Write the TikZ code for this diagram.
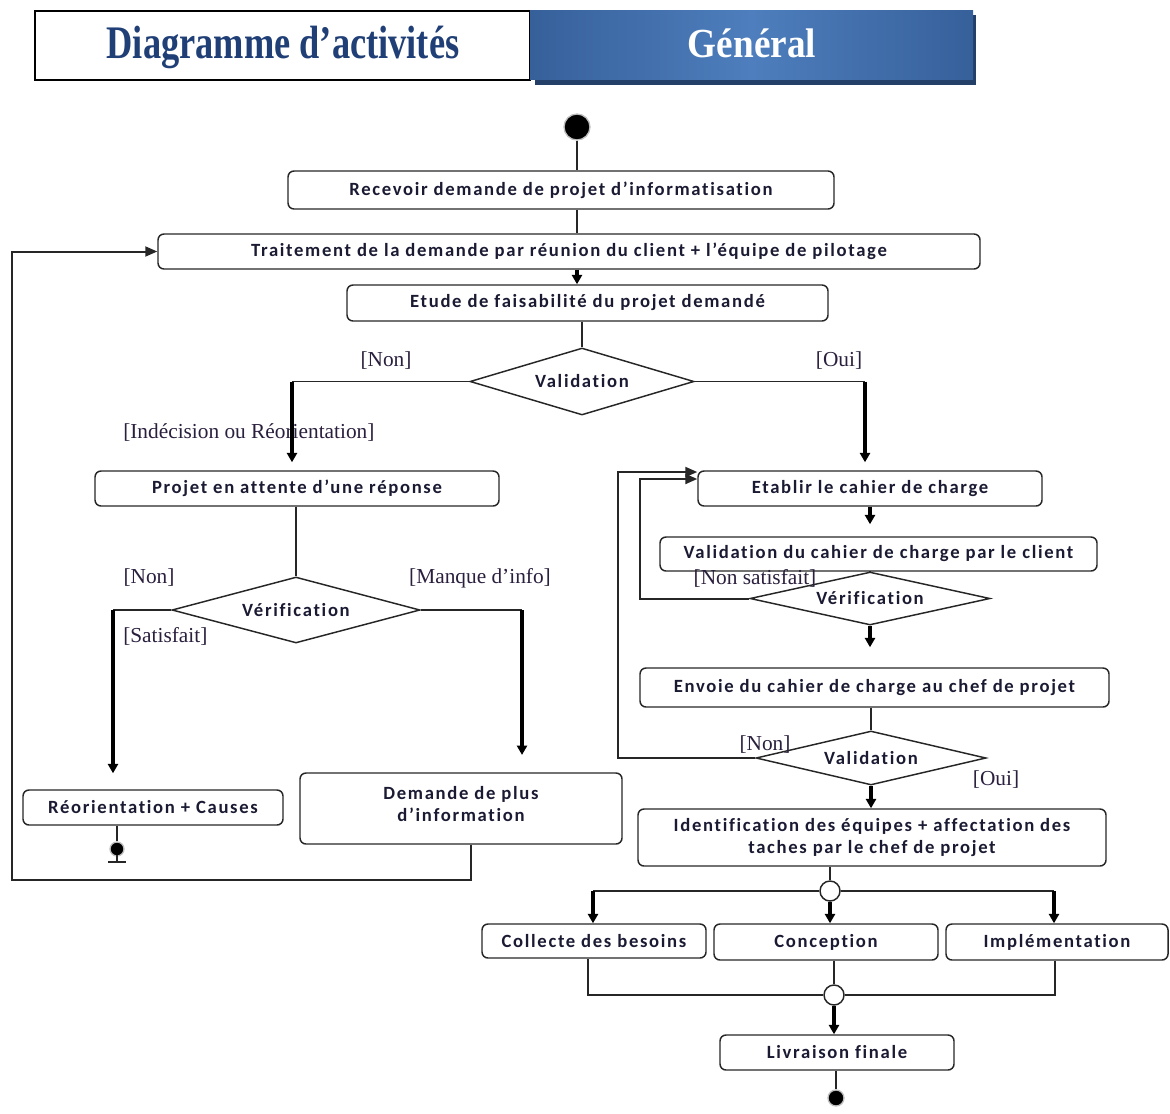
\documentclass[tikz,border=0pt]{standalone}
\usepackage{fontspec}
\setmainfont{Liberation Serif}
\newfontfamily\boxfont[LetterSpace=9,Ligatures=NoCommon]{Carlito}
\usetikzlibrary{arrows.meta,shapes.geometric,calc}

\definecolor{titleblue}{HTML}{1F3F76}
\definecolor{bandblue}{HTML}{36609A}
\definecolor{bandlight}{HTML}{4E7EBD}
\definecolor{banddark}{HTML}{243F68}
\definecolor{ink}{HTML}{1A1A33}
\definecolor{guardink}{HTML}{2A1F3D}

\tikzset{
  sz/.style 2 args={minimum width=#1*0.75pt, minimum height=#2*0.75pt},
  activity/.style={draw=black!85, line width=1.1pt, rounded corners=4.5pt,
    inner sep=0pt, align=center, text=ink,
    font=\boxfont\bfseries\fontsize{14}{16.5}\selectfont},
  decision/.style={diamond, draw=black!85, line width=1.1pt, inner sep=0pt,
    label={[text=ink, font=\boxfont\bfseries\fontsize{14}{16}\selectfont]center:#1}},
  guard/.style={text=guardink, inner sep=0pt, font=\fontsize{16}{18}\selectfont},
  startnode/.style={circle, fill=black, draw=black!25, line width=1pt, inner sep=0pt},
  forknode/.style={circle, fill=white, draw=black!85, line width=1.1pt, inner sep=0pt,
    minimum size=15pt},
  link/.style={draw=black!85, line width=1.1pt},
  flow/.style={draw=black, line width=2.3pt, -{Triangle[width=7.5pt,length=7pt]}},
  back/.style={draw=black!85, line width=1.5pt, -{Triangle[width=7.5pt,length=9pt]}},
}

\begin{document}
\begin{tikzpicture}[x=0.75pt,y=-0.75pt]
\useasboundingbox (0,0) rectangle (1170,1113);

% ---- header band ----
\node[draw=black, line width=1.3pt, fill=white, sz={495}{69}] (tleft) at (282.5,45.5) {};
\fill[banddark] (535,15) rectangle (976,85);
\shade[left color=bandblue, right color=bandblue, middle color=bandlight] (530,11) rectangle (973,80);
\node[text=titleblue, font=\bfseries\fontsize{35}{40}\selectfont] (ttitle) at (283,47)
  {\scalebox{0.78}[1]{Diagramme d’activités}};
\node[text=white, font=\bfseries\fontsize{31}{36}\selectfont] (tgen) at (752,43)
  {\scalebox{0.9}[1]{Général}};

% ---- main flow ----
\node[startnode, minimum size=19.5pt] (start) at (577,127) {};

\node[activity, sz={546}{38}] (b1) at (561,190) {Recevoir demande de projet d’informatisation};
\node[activity, sz={822}{35}] (b2) at (569,251.5) {Traitement de la demande par réunion du client + l’équipe de pilotage};
\node[activity, sz={481}{36}] (b3) at (587.5,303) {Etude de faisabilité du projet demandé};
\node[decision=Validation, sz={224}{67}] (d1) at (582,381.5) {};

% left branch
\node[activity, sz={404}{35}] (b4) at (297,488.5) {Projet en attente d’une réponse};
\node[decision=Vérification, sz={248}{66}] (d2) at (296,610) {};
\node[activity, sz={260}{35}] (b6) at (153,807.5) {Réorientation + Causes};
\node[activity, sz={322}{71}] (b7) at (461,808.5) {Demande de plus\\d’information\\[-9.5pt]};
\node[startnode, minimum size=10.5pt] (end1) at (117,849) {};

% right branch
\node[activity, sz={344}{35}] (b5) at (870,488.5) {Etablir le cahier de charge};
\node[activity, sz={437}{34}] (b8) at (878.5,554) {Validation du cahier de charge par le client};
\node[decision=Vérification, sz={240}{53}] (d3) at (870,598.5) {};
\node[activity, sz={469}{39}] (b9) at (874.5,687.5) {Envoie du cahier de charge au chef de projet};
\node[decision=Validation, sz={230}{54}] (d4) at (871,758) {};
\node[activity, sz={468}{57}] (b10) at (872,837.5) {Identification des équipes + affectation des\\taches par le chef de projet};

% parallel part
\node[forknode] (f1) at (830,891) {};
\node[activity, sz={224}{34}] (b11) at (594,941) {Collecte des besoins};
\node[activity, sz={224}{36}] (b12) at (826,942) {Conception};
\node[activity, sz={222}{36}] (b13) at (1057,942) {Implémentation};
\node[forknode] (f2) at (834,995) {};
\node[activity, sz={234}{35}] (b14) at (837,1052.5) {Livraison finale};
\node[startnode, minimum size=12pt] (end2) at (836,1098) {};

% ---- guards ----
\node[guard] (gnon1) at (386,361) {[Non]};
\node[guard] (goui1) at (839,361) {[Oui]};
\node[guard, anchor=west] (gindec) at (123,433) {[Indécision ou Réorientation]};
\node[guard] (gnon2) at (149,578) {[Non]};
\node[guard] (gmanque) at (480,578) {[Manque d’info]};
\node[guard, anchor=west] (gsat) at (123,636) {[Satisfait]};
\node[guard] (gnonsat) at (755,578) {[Non satisfait]};
\node[guard] (gnon3) at (765,745) {[Non]};
\node[guard] (goui2) at (996,780) {[Oui]};

% ---- connectors ----
\draw[link] (start) -- (start |- b1.north);
\draw[link] (start |- b1.south) -- (start |- b2.north);
\draw[flow] (start |- b2.south) -- (start |- b3.north);
\draw[link] (d1 |- b3.south) -- (d1.north);

% validation -> non
\coordinate (nk) at (292,381.5);
\draw[link] (d1.west) -- (nk);
\draw[flow, shorten >=6pt] (nk) -- (nk |- b4.north);
% validation -> oui
\coordinate (ok) at (865,381.5);
\draw[link] (d1.east) -- (ok);
\draw[flow, shorten >=6pt] (ok) -- (ok |- b5.north);

\draw[link] (d2 |- b4.south) -- (d2.north);
\coordinate (vl) at (113,610);
\draw[link] (d2.west) -- (vl);
\draw[flow, shorten >=12pt] (vl) -- (vl |- b6.north);
\coordinate (vr) at (522,610);
\draw[link] (d2.east) -- (vr);
\draw[flow, shorten >=13pt] (vr) -- (vr |- b7.north);

\draw[link] (end1 |- b6.south) -- (end1);
\draw[link] (117,855) -- (117,862);
\draw[link] (108,862) -- (126,862);

% back to the meeting
\coordinate (r1) at (471,880);
\coordinate (r2) at (12,880);
\draw[back] (r1 |- b7.south) -- (r1) -- (r2) |- (b2.west);

% specification loop
\draw[flow, shorten >=9pt] (b5.south -| b5) -- (b5 |- b8.north);
\draw[link] (d3 |- b8.south) -- (d3.north);
\draw[flow, shorten >=15pt] (d3.south) -- (d3 |- b9.north);
\coordinate (i1) at (640,479);
\draw[back] (d3.west) -| (i1) -- (i1 -| b5.west);

\draw[link] (d4.north |- b9.south) -- (d4.north);
\coordinate (o1) at (618,472);
\draw[back] (d4.west) -| (o1) -- (o1 -| b5.west);
\draw[flow] (d4.south) -- (d4.south |- b10.north);

% fork
\draw[link] (f1 |- b10.south) -- (f1.north);
\coordinate (fl) at (593,891);
\coordinate (fr) at (1054,891);
\draw[link] (f1.west) -- (fl);
\draw[link] (f1.east) -- (fr);
\draw[flow] (fl) -- (fl |- b11.north);
\draw[flow] (f1.south) -- (f1 |- b12.north);
\draw[flow] (fr) -- (fr |- b13.north);

% join
\coordinate (jl) at (588,995);
\coordinate (jr) at (1055,995);
\draw[link] (jl |- b11.south) -- (jl) -- (f2.west);
\draw[link] (jr |- b13.south) -- (jr) -- (f2.east);
\draw[link] (f2 |- b12.south) -- (f2.north);
\draw[flow] (f2.south) -- (f2 |- b14.north);
\draw[link] (end2 |- b14.south) -- (end2);
\end{tikzpicture}
\end{document}
